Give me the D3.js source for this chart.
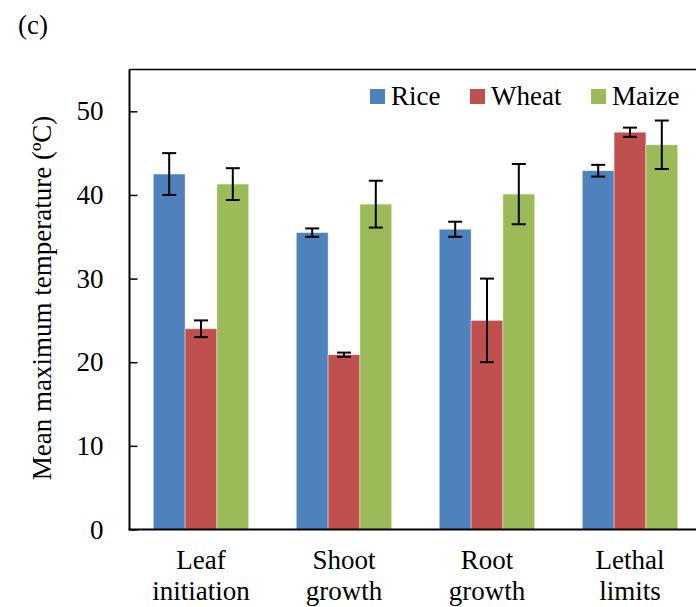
<!DOCTYPE html>
<html>
<head>
<meta charset="utf-8">
<script src="https://cdn.jsdelivr.net/npm/d3@7"></script>
</head>
<body style="margin:0">
<div id="chart"></div>
<script>
// data
var categories = ["Leaf initiation", "Shoot growth", "Root growth", "Lethal limits"];
var crops = ["Rice", "Wheat", "Maize"];
var riceMean = [42.5, 35.5, 35.9, 42.9];
var riceErr = [2.5, 0.5, 0.9, 0.7];
var wheatMean = [24.0, 20.9, 25.0, 47.5];
var wheatErr = [1.0, 0.25, 5.0, 0.55];
var maizeMean = [41.3, 38.9, 40.1, 46.0];
var maizeErr = [1.9, 2.8, 3.6, 2.9];
var yTicks = [0, 10, 20, 30, 40, 50];
var colors = ["#4F81BD", "#C0504D", "#9BBB59"];

var svgWidth = 696;
var svgHeight = 607;
var fontName = "Liberation Serif";

// plot area (right edge runs past the window like in the figure)
var plot = { left: 129.5, right: 701.5, top: 69.5, bottom: 529.5 };

var svg = d3.select("#chart")
    .append("svg")
    .attr("width", svgWidth)
    .attr("height", svgHeight)
    .attr("font-family", fontName)
    .attr("font-size", 27);

// build rows for the bars
var means = [riceMean, wheatMean, maizeMean];
var errs = [riceErr, wheatErr, maizeErr];
var rows = [];
categories.forEach(function(c, i) {
    crops.forEach(function(s, j) {
        rows.push({ cat: c, crop: s, value: means[j][i], err: errs[j][i] });
    });
});

var x0 = d3.scaleBand()
    .domain(categories)
    .range([plot.left, plot.right]);

var groupPad = (x0.bandwidth() - 95.4) / 2;
var x1 = d3.scaleBand()
    .domain(crops)
    .range([groupPad, x0.bandwidth() - groupPad]);

var yScale = d3.scaleLinear()
    .domain([0, 55])
    .range([plot.bottom, plot.top]);

var color = d3.scaleOrdinal().domain(crops).range(colors);

// panel letter
svg.append("text")
    .attr("x", 18)
    .attr("y", 34)
    .text("(c)");

// bars
svg.append("g")
    .selectAll("rect")
    .data(rows)
    .enter()
    .append("rect")
    .attr("x", d => x0(d.cat) + x1(d.crop))
    .attr("y", d => yScale(d.value))
    .attr("width", x1.bandwidth())
    .attr("height", d => yScale(0) - yScale(d.value))
    .attr("fill", d => color(d.crop))
    .attr("stroke", "#ffffff")
    .attr("stroke-opacity", 0.5)
    .attr("stroke-width", 0.8);

// error bars
var errG = svg.append("g")
    .attr("stroke", "#000")
    .attr("stroke-width", 2);

var cx = d => x0(d.cat) + x1(d.crop) + x1.bandwidth() / 2;

errG.selectAll(".stem")
    .data(rows)
    .enter()
    .append("line")
    .attr("x1", cx)
    .attr("x2", cx)
    .attr("y1", d => yScale(d.value + d.err))
    .attr("y2", d => yScale(d.value - d.err));

errG.selectAll(".capTop")
    .data(rows)
    .enter()
    .append("line")
    .attr("x1", d => cx(d) - 7)
    .attr("x2", d => cx(d) + 7)
    .attr("y1", d => yScale(d.value + d.err))
    .attr("y2", d => yScale(d.value + d.err));

errG.selectAll(".capBot")
    .data(rows)
    .enter()
    .append("line")
    .attr("x1", d => cx(d) - 7)
    .attr("x2", d => cx(d) + 7)
    .attr("y1", d => yScale(d.value - d.err))
    .attr("y2", d => yScale(d.value - d.err));

// top frame line
svg.append("line")
    .attr("x1", plot.left)
    .attr("x2", plot.right)
    .attr("y1", plot.top)
    .attr("y2", plot.top)
    .attr("stroke", "#000")
    .attr("stroke-width", 1.3);

// y axis with inward ticks
var yAxis = d3.axisLeft(yScale)
    .tickValues(yTicks)
    .tickSizeInner(-8)
    .tickSizeOuter(0)
    .tickPadding(26);

var yG = svg.append("g")
    .attr("transform", `translate(${plot.left}, 0)`)
    .call(yAxis);

// axis() puts sans-serif 10 on its group, take it off
yG.attr("font-family", null).attr("font-size", null);

yG.select(".domain")
    .attr("d", `M0,${plot.top}V${plot.bottom}`)
    .attr("stroke-width", 2);
yG.selectAll(".tick line").attr("stroke-width", 1.5);

// x axis line, labels on two lines
svg.append("line")
    .attr("x1", plot.left - 1)
    .attr("x2", plot.right)
    .attr("y1", plot.bottom)
    .attr("y2", plot.bottom)
    .attr("stroke", "#000")
    .attr("stroke-width", 2);

var xLabels = svg.append("g")
    .selectAll("text")
    .data(categories)
    .enter()
    .append("text")
    .attr("text-anchor", "middle")
    .attr("x", d => x0(d) + x0.bandwidth() / 2)
    .attr("y", 569);

xLabels.each(function(d) {
    var parts = d.split(" ");
    var t = d3.select(this);
    parts.forEach(function(p, k) {
        t.append("tspan")
            .attr("x", x0(d) + x0.bandwidth() / 2)
            .attr("dy", k === 0 ? 0 : 31)
            .text(p);
    });
});

// y axis title
svg.append("text")
    .attr("transform", `translate(51, 298) rotate(-90)`)
    .attr("text-anchor", "middle")
    .text("Mean maximum temperature (\u00BAC)");

// legend
var legendX = [370, 470, 591];
var legend = svg.append("g")
    .selectAll("g")
    .data(crops)
    .enter()
    .append("g")
    .attr("transform", (d, i) => `translate(${legendX[i]}, 89)`);

legend.append("rect")
    .attr("width", 15)
    .attr("height", 15)
    .attr("fill", d => color(d));

legend.append("text")
    .attr("x", 21)
    .attr("y", 16)
    .text(d => d);

// same font on every text, as attribute and as style
svg.selectAll("text")
    .attr("font-family", fontName)
    .attr("font-size", 27)
    .style("font-family", fontName)
    .style("font-size", "27px");
</script>
</body>
</html>
